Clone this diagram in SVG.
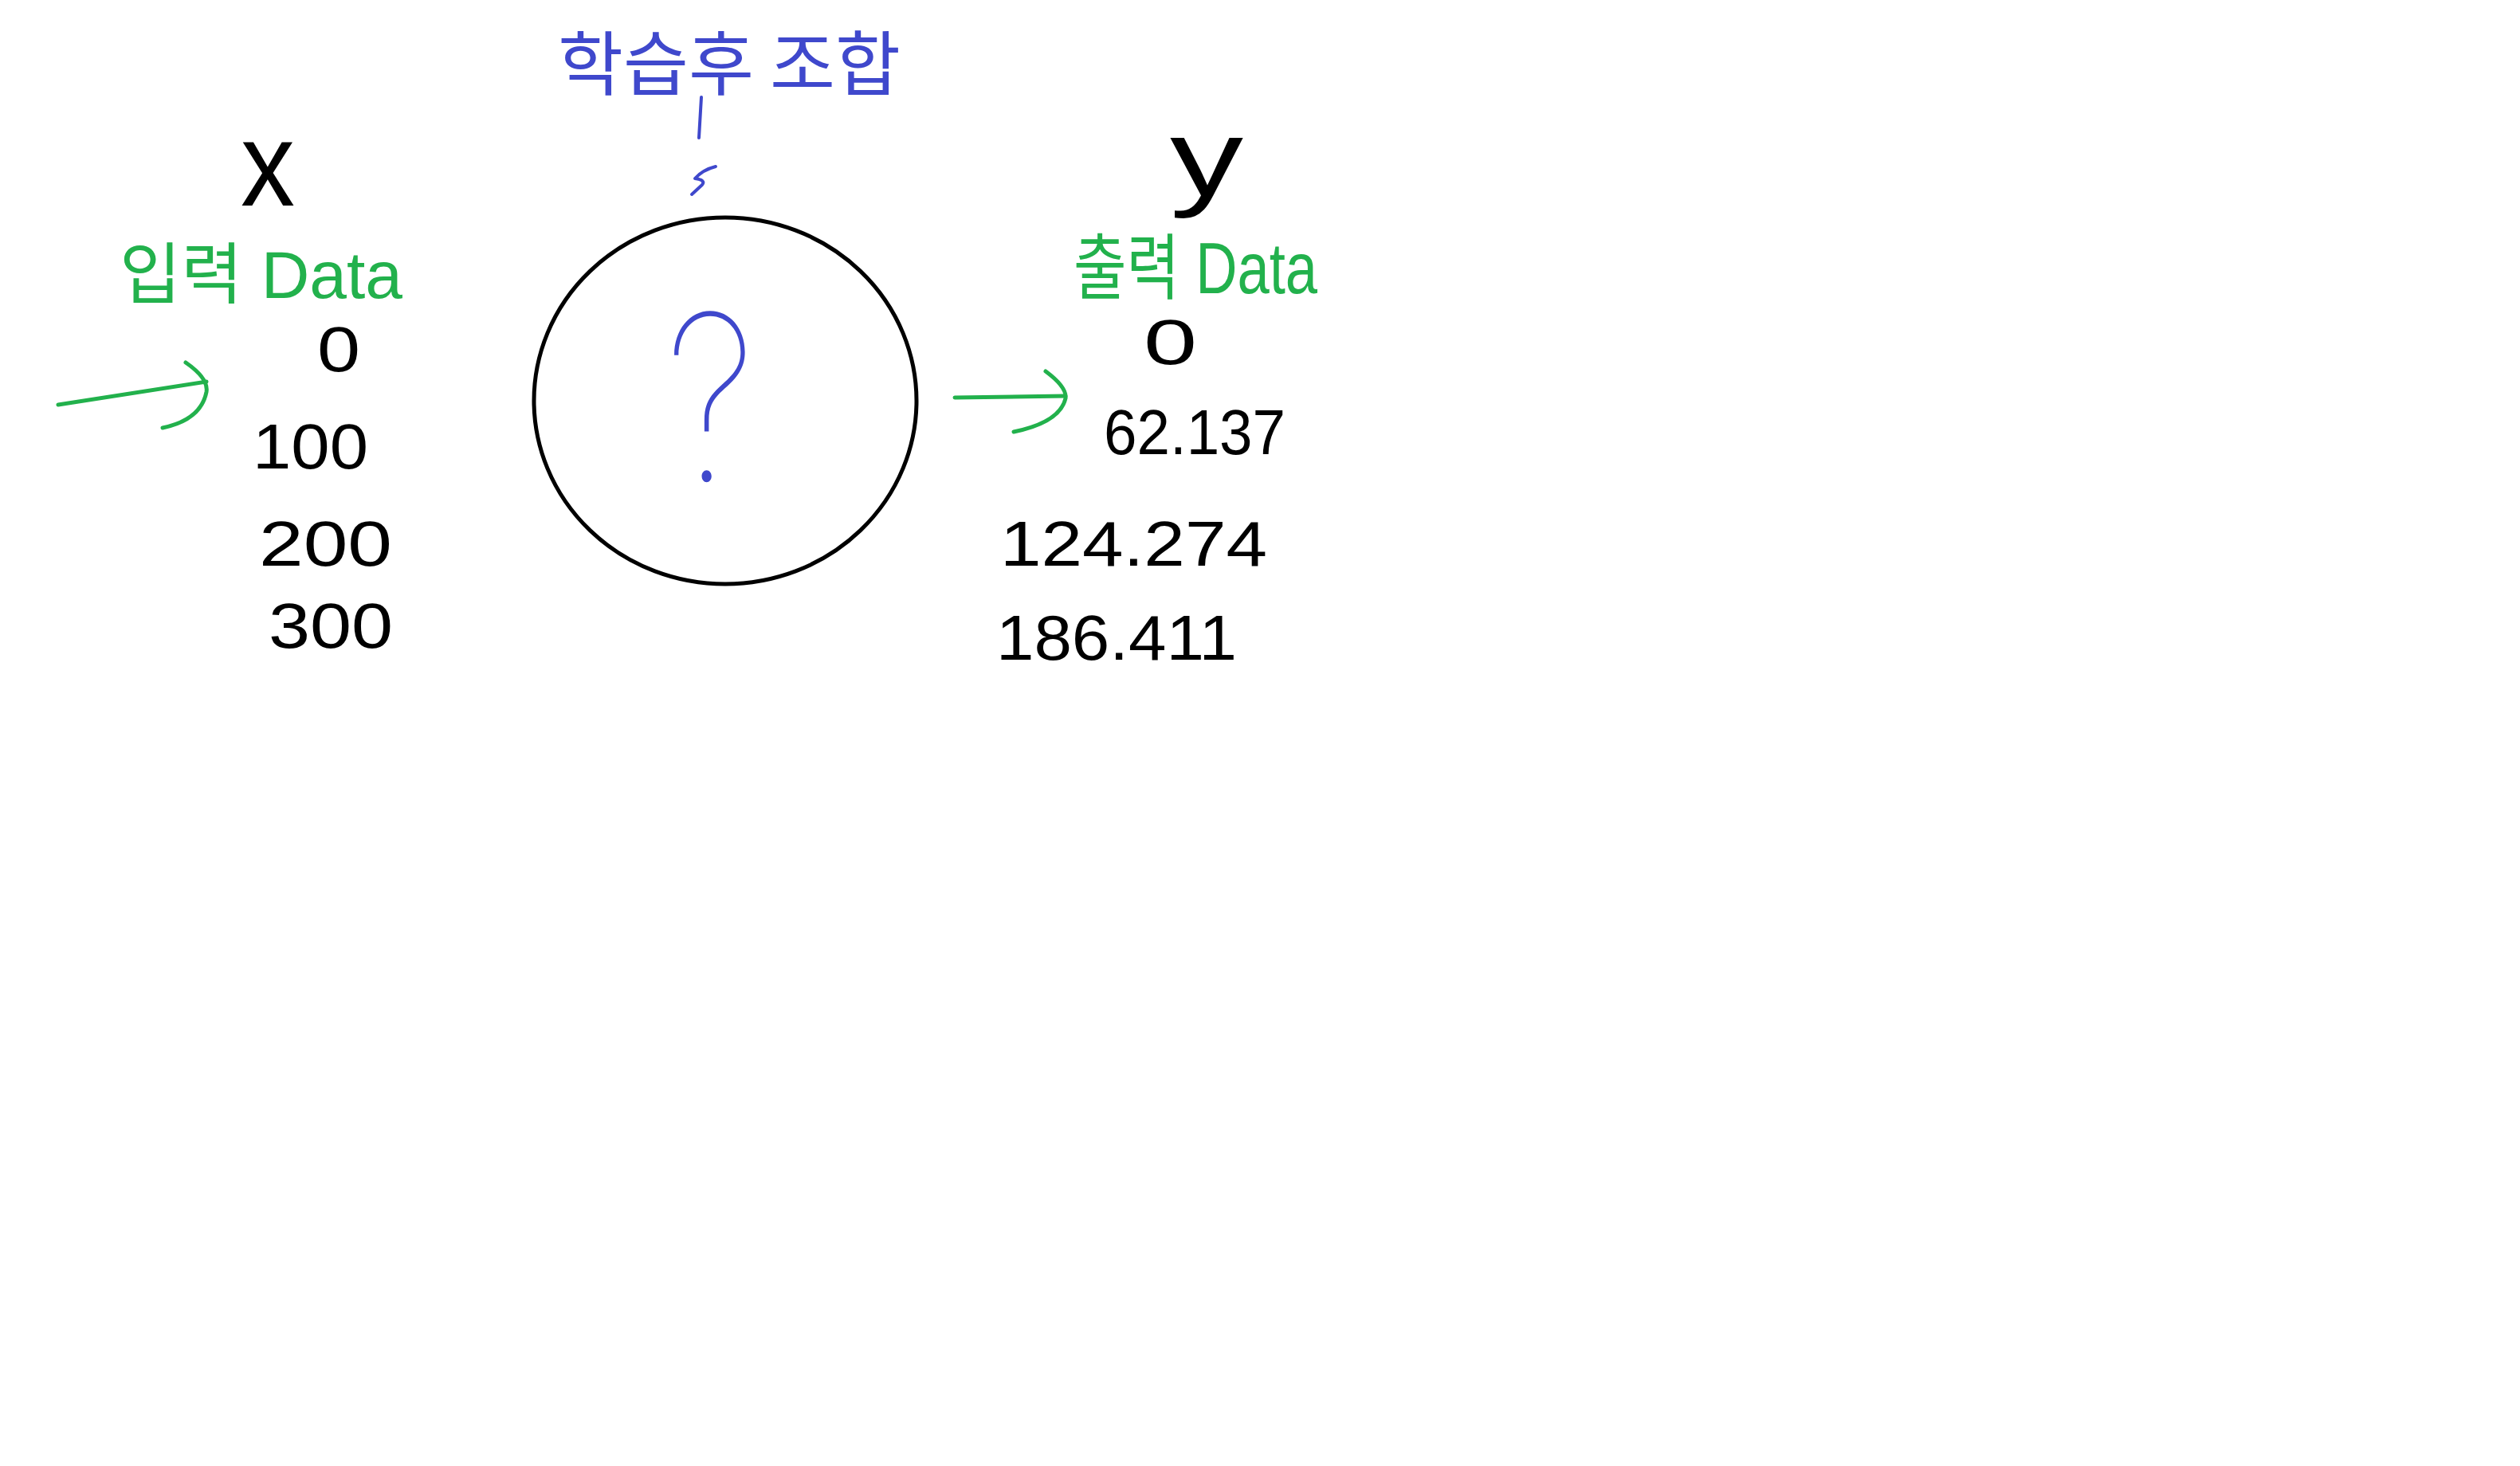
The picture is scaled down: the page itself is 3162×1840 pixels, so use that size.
<svg xmlns="http://www.w3.org/2000/svg" width="3162" height="1840" viewBox="0 0 3162 1840">
<style>
.k{font-family:"Liberation Sans","Noto Sans CJK KR",sans-serif;fill:#000;}
.g{font-family:"Liberation Sans","Noto Sans CJK KR",sans-serif;fill:#22b14c;}
.b{font-family:"Noto Sans CJK KR","Liberation Sans",sans-serif;fill:#3f48cc;}
.num{font-size:80px;}
.gs{fill:none;stroke:#22b14c;stroke-width:5;stroke-linecap:round;stroke-linejoin:round;}
.bs{fill:none;stroke:#3f48cc;stroke-width:4;stroke-linecap:round;stroke-linejoin:round;}
</style>
<rect width="3162" height="1840" fill="#fff"/>
<g id="label-top">
<text class="b" x="700" y="112" font-size="88" textLength="430" lengthAdjust="spacingAndGlyphs">학습후 조합</text>
</g>
<g id="node-function">
<ellipse cx="910" cy="503" rx="240" ry="230" fill="none" stroke="#000" stroke-width="5"/>
<text x="835" y="604" font-family="Inter, 'Noto Sans', sans-serif" font-weight="100" font-size="290" fill="#3f48cc" textLength="113" lengthAdjust="spacingAndGlyphs">?</text>
</g>
<g id="node-input">
<text class="k" x="302" y="258" font-size="150" textLength="68" lengthAdjust="spacingAndGlyphs">x</text>
<text class="g" x="150" y="374" font-size="84" textLength="355" lengthAdjust="spacingAndGlyphs">입력 Data</text>
<text class="k num" x="398" y="466" textLength="54" lengthAdjust="spacingAndGlyphs">0</text>
<text class="k num" x="317" y="588" textLength="145" lengthAdjust="spacingAndGlyphs">100</text>
<text class="k num" x="325" y="710" textLength="167" lengthAdjust="spacingAndGlyphs">200</text>
<text class="k num" x="337" y="813" textLength="156" lengthAdjust="spacingAndGlyphs">300</text>
</g>
<g id="node-output">
<text class="k" x="1468" y="245" font-size="137" textLength="92" lengthAdjust="spacingAndGlyphs">y</text>
<text class="g" x="1347" y="368" font-size="90" textLength="306" lengthAdjust="spacingAndGlyphs">출력 Data</text>
<text class="k num" x="1435" y="457" textLength="67" lengthAdjust="spacingAndGlyphs">0</text>
<text class="k num" x="1385" y="570" textLength="228" lengthAdjust="spacingAndGlyphs">62.137</text>
<text class="k num" x="1255" y="710" textLength="335" lengthAdjust="spacingAndGlyphs">124.274</text>
<text class="k num" x="1250" y="828" textLength="302" lengthAdjust="spacingAndGlyphs">186.411</text>
</g>
<g id="connectors">
<path class="gs" d="M73 508 L259 479"/>
<path class="gs" d="M233 455 Q262 475 259 492 Q252 527 204 537"/>
<path class="gs" d="M1198 499 L1337 497"/>
<path class="gs" d="M1312 466 Q1339 486 1337 500 Q1330 530 1272 542"/>
<path class="bs" d="M880 122 L877 173"/>
<path class="bs" d="M898 209 Q882 213 872 224 Q886 226 881 232 L868 244"/>
</g>
</svg>
